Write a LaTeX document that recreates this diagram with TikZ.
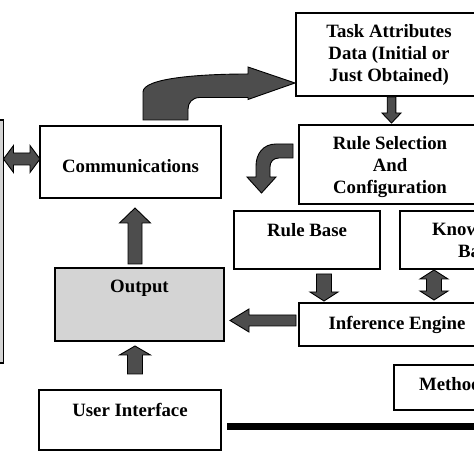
\documentclass[tikz,border=0pt]{standalone}
\usepackage{fontspec}
\setmainfont{Liberation Serif}
\usetikzlibrary{calc}
\definecolor{arrowgray}{RGB}{77,77,77}
\definecolor{boxgray}{RGB}{212,212,212}
\tikzset{
  lbl/.style={inner sep=0pt, align=center, font=\bfseries\fontsize{18.8}{22}\selectfont},
  box/.style={lbl, draw=black, line width=1.2pt, fill=white},
  blk/.style={fill=arrowgray, draw=black, line width=0.9pt, line join=miter},
}
% block arrow: #1 tail, #2 tip, #3 shaft half width, #4 head half width, #5 head length
\newcommand\myblockarrow[5]{%
  \path ($(#2)!#5!(#1)$) coordinate (bh);
  \draw[blk] ($(#1)!#3!90:(#2)$) -- ($(bh)!#3!90:(#2)$) -- ($(bh)!#4!90:(#2)$) -- (#2)
    -- ($(bh)!#4!-90:(#2)$) -- ($(bh)!#3!-90:(#2)$) -- ($(#1)!#3!-90:(#2)$) -- cycle;}
% double block arrow: tips #1 and #2
\newcommand\mydblockarrow[5]{%
  \path ($(#1)!#5!(#2)$) coordinate (bha) ($(#2)!#5!(#1)$) coordinate (bhb);
  \draw[blk] (#1) -- ($(bha)!#4!90:(#2)$) -- ($(bha)!#3!90:(#2)$) -- ($(bhb)!#3!-90:(#1)$)
    -- ($(bhb)!#4!-90:(#1)$) -- (#2) -- ($(bhb)!#4!90:(#1)$) -- ($(bhb)!#3!90:(#1)$)
    -- ($(bha)!#3!-90:(#2)$) -- ($(bha)!#4!-90:(#2)$) -- cycle;}
\begin{document}
\begin{tikzpicture}[x=1pt,y=1pt]
\useasboundingbox (0,0) rectangle (474,474);
\clip (0,0) rectangle (474,474);
\fill[white] (0,0) rectangle (474,474);

% boxes
\node[box, fill=boxgray, minimum width=64pt, minimum height=243pt] (side) at (-28.5,232.5) {};
\node[box, minimum width=181pt, minimum height=72pt] (comm) at (130.5,312) {};
\node[lbl] (commt) at (130.5,308) {Communications};
\node[box, minimum width=186pt, minimum height=83pt] (task) at (389,419.5) {Task Attributes\\Data (Initial or\\Just Obtained)};
\node[box, minimum width=182pt, minimum height=79pt] (rsel) at (390,309.5) {};
\node[lbl] (rselt) at (390,306.5) {Rule Selection\\And\\Configuration};
\node[box, minimum width=146pt, minimum height=58pt] (rb) at (307,234) {};
\node[lbl] (rbt) at (307,244) {Rule Base};
\node[box, minimum width=154pt, minimum height=58pt] (kb) at (477,234) {Knowledge\\Base};
\node[box, minimum width=196pt, minimum height=43pt] (ie) at (397,149.5) {Inference Engine};
\node[box, minimum width=120pt, minimum height=45pt] (meth) at (454,86.5) {};
\node[lbl] (metht) at (454,90) {Methods};
\node[box, fill=boxgray, minimum width=169pt, minimum height=73pt] (out) at (139.5,169.5) {};
\node[lbl] (outt) at (139.5,186) {Output};
\node[box, minimum width=182pt, minimum height=60pt] (ui) at (130,54) {};
\node[lbl] (uit) at (130,64) {User Interface};

% thick rule
\draw[line width=7pt] (227,47.5) -- (490,47.5);

% straight block arrows
\coordinate (a1t) at (135,210); \coordinate (a1h) at (135,266);
\myblockarrow{a1t}{a1h}{7pt}{15.5pt}{15pt}
\coordinate (a2t) at (135,100); \coordinate (a2h) at (135,128);
\myblockarrow{a2t}{a2h}{7.5pt}{15.5pt}{9pt}
\coordinate (a3t) at (391.5,377); \coordinate (a3h) at (391.5,351);
\myblockarrow{a3t}{a3h}{4.3pt}{9.5pt}{10pt}
\coordinate (a4t) at (324,200); \coordinate (a4h) at (324,173);
\myblockarrow{a4t}{a4h}{7.5pt}{14pt}{9pt}
\coordinate (a5t) at (296,153.5); \coordinate (a5h) at (230,153.5);
\myblockarrow{a5t}{a5h}{5.5pt}{11.5pt}{19pt}
\coordinate (d1a) at (434,204); \coordinate (d1b) at (434,174);
\mydblockarrow{d1a}{d1b}{7.5pt}{14pt}{9pt}
\coordinate (d2a) at (3.5,315); \coordinate (d2b) at (40,315);
\mydblockarrow{d2a}{d2b}{6pt}{13.5pt}{10pt}

% curved arrow: Communications -> Task Attributes
\draw[blk] (143,354) -- (143,382) .. controls (143,396) and (200,400) .. (248,400)
  -- (248,407) -- (295,391) -- (248,374.5) -- (248,376.5) -- (200,376.5)
  .. controls (192,376.5) and (188,371) .. (188,365) -- (188,354) -- cycle;

% curved arrow: Rule Selection -> Rule Base
\draw[blk] (293,330) -- (276,330) .. controls (263,330) and (256,320) .. (256,308)
  -- (256,297) -- (247,297) -- (261.5,281) -- (276,297) -- (270,297) -- (270,307)
  .. controls (270,312) and (273,316) .. (279,316) -- (293,316) -- cycle;
\end{tikzpicture}
\end{document}
